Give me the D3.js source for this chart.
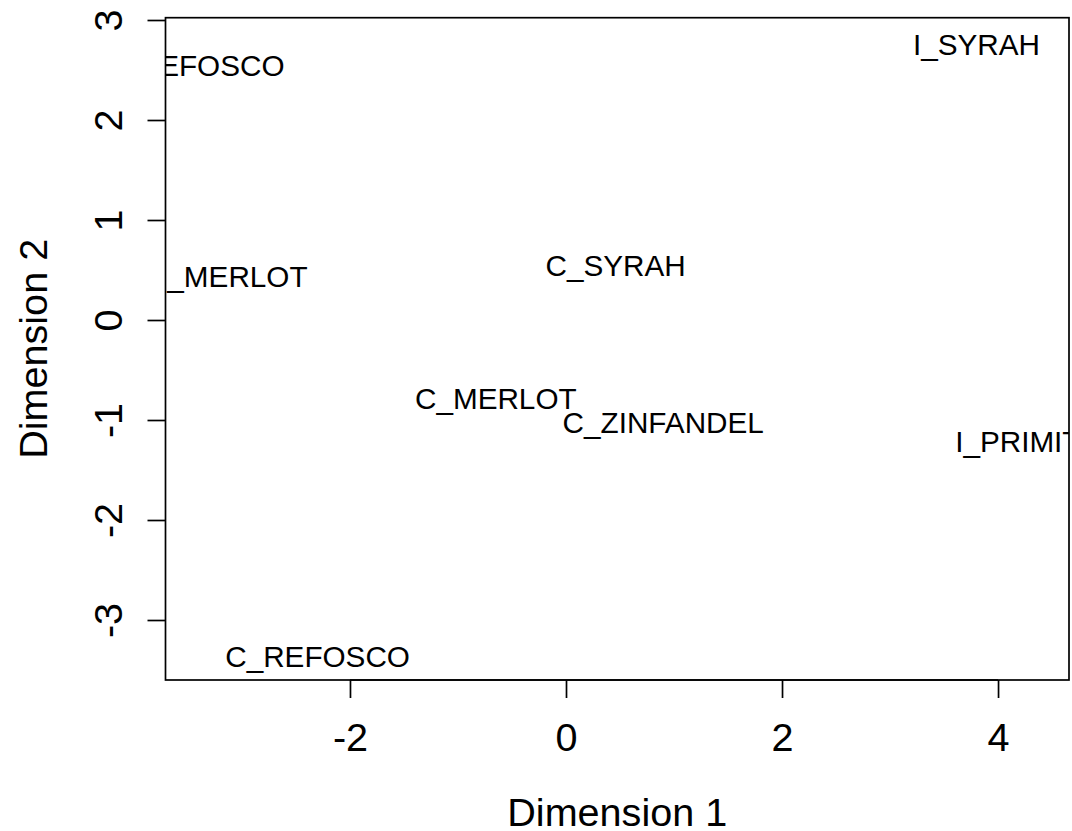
<!DOCTYPE html>
<html>
<head>
<meta charset="utf-8">
<script src="https://cdn.jsdelivr.net/npm/d3@7"></script>
<style>
  html, body { margin: 0; padding: 0; background: #fff; }
  svg { display: block; font-family: "Liberation Sans", Arial, Helvetica, sans-serif; }
</style>
</head>
<body>
<svg id="chart" width="1072" height="831"></svg>
<script>
// MDS configuration of wines: label names and their coordinates
const wines = ["I_REFOSCO", "I_MERLOT", "C_SYRAH", "C_MERLOT", "C_ZINFANDEL", "I_PRIMITIVO", "C_REFOSCO", "I_SYRAH"];
const dim1 = [-3.40, -3.08, 0.46, -0.65, 0.90, 4.42, -2.30, 3.80];
const dim2 = [2.55, 0.44, 0.55, -0.78, -1.02, -1.21, -3.36, 2.76];

// axis ranges and tick values
const xDomain = [-3.708, 4.657];
const yDomain = [-3.6, 3.023];
const xTicks = [-2, 0, 2, 4];
const yTicks = [-3, -2, -1, 0, 1, 2, 3];

const plot = { left: 165.5, right: 1069, top: 17.7, bottom: 680 };
const baseFont = 39.6;
const labelFont = baseFont * 0.75;

const svg = d3.select("#chart");

const x = d3.scaleLinear().domain(xDomain).range([plot.left, plot.right]);
const y = d3.scaleLinear().domain(yDomain).range([plot.bottom, plot.top]);

svg.append("defs").append("clipPath").attr("id", "plotClip")
  .append("rect")
  .attr("x", plot.left).attr("y", plot.top)
  .attr("width", plot.right - plot.left).attr("height", plot.bottom - plot.top);

// point labels, centred on their coordinates and clipped to the plot region
const points = wines.map((name, i) => ({ name, d1: dim1[i], d2: dim2[i] }));
svg.append("g").attr("clip-path", "url(#plotClip)")
  .selectAll("text").data(points).join("text")
  .attr("x", d => x(d.d1))
  .attr("y", d => y(d.d2))
  .attr("dy", "0.358em")
  .attr("text-anchor", "middle")
  .attr("font-size", labelFont)
  .attr("fill", "#000")
  .text(d => d.name);

// bottom axis
const xAxis = d3.axisBottom(x).tickValues(xTicks).tickSize(18).tickPadding(0)
  .tickFormat(d3.format("d"));
const gx = svg.append("g").attr("transform", `translate(0,${plot.bottom})`).call(xAxis);
gx.select(".domain").remove();
gx.selectAll(".tick line").attr("stroke", "#000").attr("stroke-width", 1.7);
gx.selectAll(".tick text")
  .attr("font-size", baseFont).attr("font-family", null)
  .attr("fill", "#000")
  .attr("dy", null).attr("y", 71)
  .text(d => d < 0 ? "-" + Math.abs(d) : d);
svg.append("line")
  .attr("x1", x(xTicks[0])).attr("x2", x(xTicks[xTicks.length - 1]))
  .attr("y1", plot.bottom).attr("y2", plot.bottom)
  .attr("stroke", "#000").attr("stroke-width", 1.7);

// left axis with labels parallel to the axis
const yAxis = d3.axisLeft(y).tickValues(yTicks).tickSize(18).tickFormat(d3.format("d"));
const gy = svg.append("g").attr("transform", `translate(${plot.left},0)`).call(yAxis);
gy.select(".domain").remove();
gy.selectAll(".tick line").attr("stroke", "#000").attr("stroke-width", 1.7);
gy.selectAll(".tick text").remove();
gy.selectAll(".tick").append("text")
  .attr("transform", `translate(${122 - plot.left},0) rotate(-90)`)
  .attr("text-anchor", "middle")
  .attr("font-size", baseFont)
  .attr("fill", "#000")
  .text(d => d < 0 ? "-" + Math.abs(d) : d);

// plot frame
svg.append("rect")
  .attr("x", plot.left).attr("y", plot.top)
  .attr("width", plot.right - plot.left).attr("height", plot.bottom - plot.top)
  .attr("fill", "none").attr("stroke", "#000").attr("stroke-width", 1.7);

// axis titles
svg.append("text")
  .attr("x", (plot.left + plot.right) / 2).attr("y", 826)
  .attr("text-anchor", "middle").attr("font-size", baseFont).attr("fill", "#000")
  .text("Dimension 1");
svg.append("text")
  .attr("transform", `translate(47,${(plot.top + plot.bottom) / 2}) rotate(-90)`)
  .attr("text-anchor", "middle").attr("font-size", baseFont).attr("fill", "#000")
  .text("Dimension 2");
</script>
</body>
</html>
